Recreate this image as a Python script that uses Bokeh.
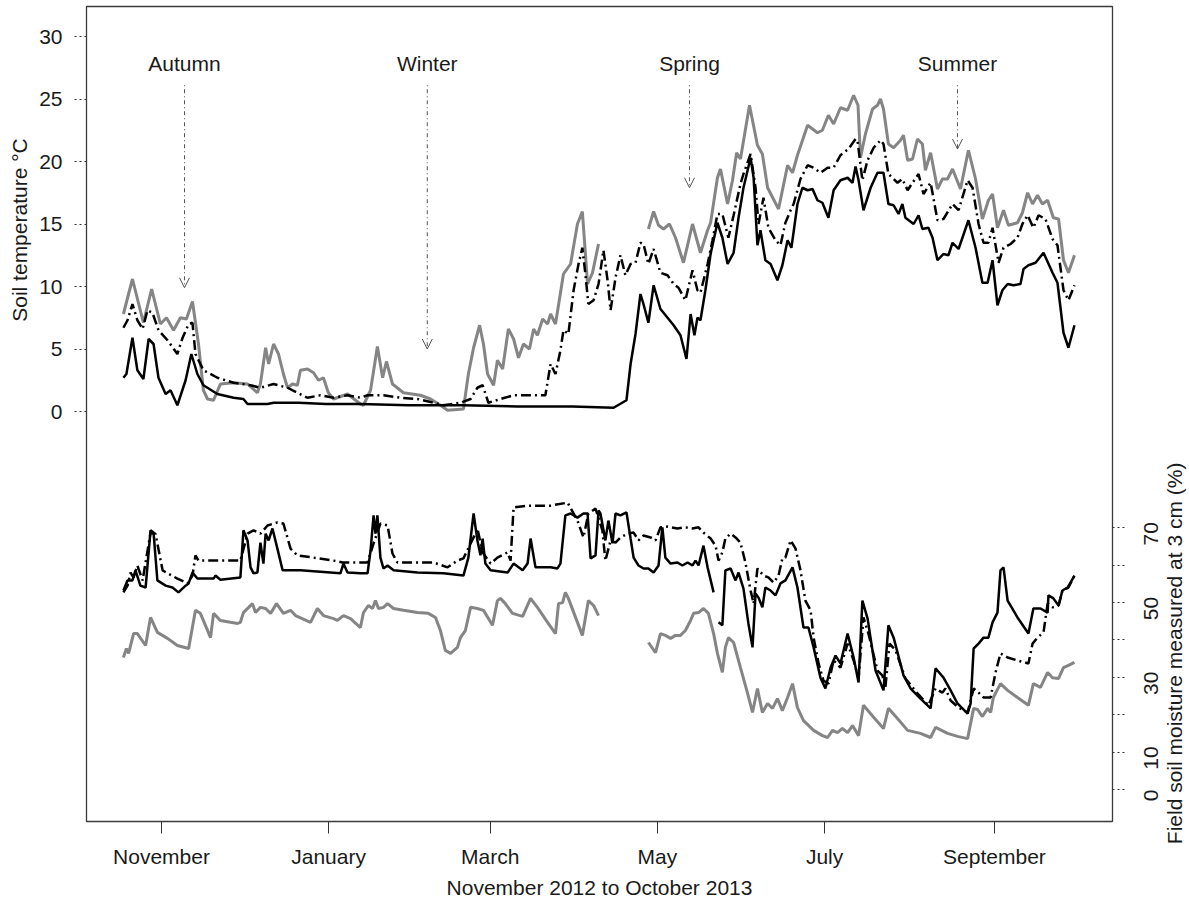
import math
from bokeh.plotting import figure
from bokeh.layouts import row
from bokeh.models import Range1d, LinearAxis, FixedTicker, Label, LabelSet, Arrow, OpenHead, ColumnDataSource
from bokeh.embed import file_html
from bokeh.resources import INLINE
from bokeh.core.properties import value

NaN = float("nan")

# x values: days since 1 November 2012
month_ticks = [0, 61, 120, 181, 242, 304]
month_labels = ["November", "January", "March", "May", "July", "September"]
temp_ticks = [0, 5, 10, 15, 20, 25, 30]
moist_ticks = [0, 10, 20, 30, 40, 50, 60, 70]
moist_labelled = [0, 10, 30, 50, 70]

seasons = ["Autumn", "Winter", "Spring", "Summer"]
season_day = [8.4, 97.0, 192.7, 290.5]
season_tip = [9.9, 5.0, 17.9, 21.0]

# ---- soil temperature (left axis) ----
t_grey_day = [-13.9, -10.6, -6.6, -3.6, -0.4, 1.8, 4.4, 6.9, 9.1, 11.3, 13.5, 15.3, 16.8, 19.0, 21.5, 26.3, 31.4, 35.0, 36.1, 38.0,
              39.1, 40.9, 42.7, 44.5, 46.0, 47.8, 49.6, 50.7, 53.3, 55.5, 57.3, 59.1, 60.9, 62.8, 67.9, 72.6, 73.7, 76.3, 78.8, 80.7,
              82.1, 84.3, 88.3, 94.5, 98.2, 101.8, 104.4, 110.2, 112.0, 113.9, 116.1, 117.5, 119.0, 121.2, 122.6, 124.5, 126.6, 128.5, 130.3, 132.1,
              134.3, 135.8, 137.2, 139.1, 140.9, 142.0, 143.8, 146.7, 149.3, 151.8, 153.6, 155.5, 157.3, 159.5, 168.0,
              177.7, 179.6, 181.4, 183.2, 185.4, 187.6, 190.5, 193.8, 196.7, 199.3, 200.4, 202.9, 204.0, 206.6, 208.4, 209.9, 211.3, 214.6, 217.5, 219.3,
              221.2, 225.2, 228.5, 230.3, 232.1, 235.8, 239.4, 241.2, 243.4, 245.3, 247.8, 250.4, 252.6, 254.2, 255.1, 256.9, 259.5, 261.3, 262.4, 263.5,
              265.3, 267.2, 269.7, 270.8, 272.3, 274.1, 275.9, 277.7, 278.8, 280.7, 283.2, 285.0, 286.9, 288.7, 291.6, 294.5, 297.1, 299.6, 301.8, 303.3,
              305.1, 307.3, 309.1, 312.4, 314.2, 316.1, 317.9, 319.7, 321.5, 323.4, 325.5, 327.4, 329.2, 331.0, 333.2]
t_grey = [7.8, 10.6, 7.1, 9.8, 7.0, 7.5, 6.5, 7.5, 7.4, 8.8, 5.4, 1.7, 1.0, 0.9, 2.2, 2.3, 2.2, 1.5, 2.2, 5.1,
          3.8, 5.4, 4.6, 3.0, 1.9, 2.2, 2.1, 3.3, 3.4, 3.1, 2.5, 2.7, 1.5, 1.0, 1.4, 0.6, 0.5, 1.7, 5.2, 2.7,
          4.0, 2.2, 1.5, 1.3, 1.0, 0.5, 0.1, 0.2, 3.0, 5.1, 6.9, 5.4, 3.0, 2.1, 4.1, 3.4, 6.6, 5.8, 4.3, 5.4,
          5.0, 6.6, 6.1, 7.4, 7.0, 7.8, 7.0, 11.0, 11.8, 15.0, 16.0, 10.2, 11.1, 13.4, NaN,
          14.6, 16.0, 14.9, 14.6, 15.0, 13.9, 11.9, 15.0, 12.7, 14.5, 15.1, 18.7, 19.4, 16.6, 18.5, 20.7, 20.2, 24.5, 21.3, 20.6,
          17.9, 16.2, 19.7, 19.1, 20.5, 22.9, 22.3, 22.5, 23.7, 23.0, 24.3, 24.1, 25.3, 24.5, 20.3, 22.2, 24.2, 24.5, 25.0, 24.2,
          21.4, 21.1, 21.7, 22.1, 20.1, 20.2, 21.8, 21.4, 19.3, 20.7, 17.8, 18.6, 18.6, 19.4, 17.8, 20.9, 18.6, 15.4, 16.9, 17.4,
          14.7, 16.1, 14.9, 15.1, 15.9, 17.5, 16.6, 17.3, 16.6, 16.9, 15.5, 15.4, 12.1, 11.1, 12.5]

t_black_day = [-13.9, -12.8, -10.6, -8.8, -6.6, -4.7, -2.9, -1.1, 1.5, 3.3, 5.8, 8.8, 10.9, 13.1, 15.3, 20.4, 26.3, 29.9, 31.4, 38.7,
               40.9, 50.0, 60.0, 72.6, 90.0, 110.0, 130.0, 150.0, 165.0, 169.7, 171.2, 173.0, 174.8, 175.9, 177.7, 179.6, 182.1, 184.7, 186.9, 189.4,
               191.6, 193.1, 194.5, 195.6, 196.7, 198.5, 200.4, 202.9, 204.7, 206.6, 208.8, 210.6, 212.4, 215.0, 216.1, 217.5, 218.6, 220.4, 222.3, 224.8,
               226.6, 228.5, 229.9, 232.1, 233.9, 235.8, 237.6, 239.4, 241.2, 243.4, 245.3, 247.8, 250.4, 252.2, 253.3, 254.4, 256.2, 258.8, 261.3, 263.5,
               265.3, 267.2, 269.0, 270.4, 271.5, 274.5, 276.3, 277.7, 279.9, 281.4, 283.2, 285.4, 287.2, 288.7, 290.9, 294.5, 297.1, 299.6, 301.5, 303.3,
               305.1, 306.9, 308.8, 310.9, 313.5, 314.6, 316.4, 319.0, 321.9, 325.2, 327.0, 329.2, 331.0, 333.2]
t_black = [2.7, 3.0, 5.9, 3.3, 2.6, 5.8, 5.4, 2.7, 1.4, 1.7, 0.5, 2.5, 4.6, 3.0, 2.1, 1.4, 1.1, 1.0, 0.6, 0.6,
           0.7, 0.7, 0.6, 0.6, 0.5, 0.5, 0.4, 0.4, 0.3, 0.9, 3.8, 6.2, 9.4, 8.6, 7.1, 10.1, 8.2, 7.5, 6.9, 6.1,
           4.2, 7.8, 6.1, 7.5, 7.3, 9.7, 12.6, 15.1, 13.9, 11.8, 12.7, 15.5, 17.9, 20.3, 18.7, 13.3, 14.5, 12.1, 11.8, 10.5,
           11.7, 13.7, 13.1, 16.6, 17.9, 17.7, 17.8, 16.9, 16.7, 15.5, 17.7, 18.5, 18.7, 18.3, 19.6, 18.5, 16.1, 17.9, 19.1, 19.1,
           16.6, 16.5, 15.8, 16.6, 15.5, 15.0, 15.7, 14.6, 14.7, 13.9, 12.1, 12.6, 12.5, 13.5, 13.0, 15.3, 13.1, 10.3, 10.3, 12.1,
           8.5, 9.7, 10.2, 10.1, 10.2, 11.4, 11.7, 11.9, 12.7, 11.1, 10.3, 6.3, 5.1, 6.9]

t_dash_day = [-13.9, -12.4, -10.6, -8.8, -6.9, -5.1, -3.3, -1.1, 2.2, 5.8, 7.7, 9.9, 11.3, 12.4, 15.3, 20.4, 26.3, 32.5, 36.1, 40.9,
              46.0, 49.6, 53.3, 58.0, 62.8, 67.9, 72.6, 75.2, 81.0, 87.2, 93.4, 99.3, 102.9, 109.1, 112.8, 115.3, 117.2, 119.3, 123.7, 128.5,
              134.7, 140.1, 142.0, 143.8, 145.6, 146.7, 148.5, 150.4, 152.2, 153.6, 154.7, 155.8, 157.7, 159.5, 161.3, 162.8, 163.9, 165.7, 167.5, 169.3,
              171.2, 173.0, 174.8, 175.9, 177.7, 179.6, 182.1, 184.7, 186.9, 188.7, 191.2, 193.8, 195.6, 196.7, 199.3, 201.1, 202.9, 204.7, 206.9, 208.8,
              211.3, 212.4, 215.0, 216.8, 217.9, 219.7, 221.5, 224.1, 225.9, 227.7, 229.6, 230.7, 233.2, 235.8, 238.0, 240.5, 243.1, 245.3, 247.8, 250.7,
              253.3, 254.0, 255.8, 257.7, 259.9, 262.4, 263.5, 265.3, 268.6, 270.4, 272.3, 274.1, 276.3, 278.1, 280.7, 283.2, 285.4, 288.7, 290.9, 294.2,
              296.0, 298.2, 300.0, 301.8, 303.3, 305.5, 307.3, 309.9, 312.4, 314.2, 316.1, 318.2, 320.1, 322.6, 325.2, 327.0, 329.2, 331.0, 333.2]
t_dash = [6.7, 7.3, 8.6, 7.3, 6.6, 8.1, 7.9, 6.5, 5.7, 4.6, 5.9, 7.0, 7.1, 4.6, 3.3, 2.7, 2.3, 2.1, 1.9, 2.2,
          1.9, 1.5, 1.1, 1.3, 1.1, 1.3, 1.1, 1.3, 1.3, 1.1, 1.0, 0.7, 0.5, 0.7, 1.0, 1.9, 2.1, 0.7, 1.0, 1.3,
          1.3, 1.3, 3.8, 3.0, 4.9, 6.5, 6.2, 9.7, 11.8, 13.1, 11.0, 8.6, 8.9, 10.2, 12.9, 10.5, 8.1, 10.7, 12.5, 10.9,
          11.8, 11.9, 13.5, 13.4, 11.8, 13.0, 11.1, 10.9, 10.2, 9.9, 8.9, 11.3, 9.7, 9.5, 11.8, 13.7, 15.8, 15.8, 13.9, 15.7,
          18.2, 19.0, 20.6, 17.9, 15.0, 17.1, 14.7, 13.7, 13.3, 15.1, 16.1, 16.6, 18.6, 19.7, 19.5, 19.1, 19.5, 19.5, 20.5, 21.0,
          21.8, 21.7, 18.5, 20.1, 21.1, 21.7, 21.4, 19.0, 18.3, 18.6, 17.7, 18.3, 19.0, 17.4, 18.3, 15.3, 15.4, 16.6, 16.1, 18.5,
          17.9, 15.0, 13.5, 13.5, 14.7, 11.9, 13.1, 13.4, 13.9, 15.0, 15.7, 14.7, 15.7, 15.4, 13.8, 13.3, 9.7, 8.9, 10.1]

# ---- soil moisture (right axis) ----
m_black_day = [-13.9, -12.4, -10.6, -9.5, -7.7, -5.8, -4.0, -2.9, -1.5, 1.5, 4.0, 6.2, 8.8, 9.9, 11.3, 13.1, 19.0, 19.7, 21.5, 28.8,
               29.9, 31.4, 32.5, 33.6, 35.0, 36.1, 37.2, 38.0, 39.1, 40.5, 42.3, 44.2, 50.7, 65.3, 66.4, 67.9, 72.6, 75.2, 76.3, 77.4,
               78.1, 78.8, 79.9, 81.0, 82.5, 84.7, 93.4, 102.9, 110.2, 112.0, 113.9, 115.3, 116.4, 117.2, 118.2, 120.1, 126.3, 128.5, 131.8, 133.6,
               134.7, 136.5, 142.0, 144.5, 145.6, 147.4, 149.3, 151.8, 154.0, 155.5, 156.6, 158.4, 159.5, 160.2, 162.0, 163.1, 164.6, 165.7, 167.5, 169.7,
               171.2, 172.3, 174.1, 175.9, 177.7, 179.6, 181.4, 182.8, 183.9, 185.8, 188.3, 190.1, 192.0, 193.8, 194.9, 196.0, 197.8, 199.3, 201.5, 202.4,
               203.3, 204.7, 205.8, 207.7, 209.5, 210.6, 212.4, 214.2, 215.7, 216.8, 217.9, 219.3, 220.4, 222.3, 224.1, 225.9, 227.7, 230.3, 232.1, 234.3,
               236.1, 238.0, 240.5, 242.3, 244.2, 246.0, 247.8, 250.4, 252.6, 254.4, 255.8, 257.7, 260.6, 263.5, 265.3, 267.2, 270.8, 273.4, 277.0, 280.7,
               282.5, 285.4, 288.0, 290.5, 294.2, 295.3, 296.4, 298.2, 300.0, 301.8, 303.3, 305.1, 306.2, 307.3, 308.8, 312.4, 316.4, 318.2, 320.8, 323.4,
               323.7, 325.5, 327.4, 328.8, 330.7, 333.2]
m_black = [53.2, 55.9, 55.9, 58.6, 54.5, 54.0, 69.3, 68.7, 55.9, 54.5, 54.0, 52.7, 54.5, 55.1, 58.0, 56.4, 56.4, 57.2, 56.1, 56.7,
           69.3, 66.6, 59.4, 57.8, 58.0, 66.0, 60.4, 68.4, 66.6, 69.8, 64.4, 58.6, 58.6, 57.8, 60.4, 58.0, 57.8, 57.8, 63.9, 73.3,
           68.4, 73.3, 62.0, 59.1, 59.9, 58.6, 58.0, 57.8, 57.2, 62.0, 73.8, 66.6, 62.6, 67.1, 60.4, 58.6, 58.0, 60.4, 58.6, 60.4,
           67.1, 59.4, 59.4, 59.1, 60.4, 73.3, 73.8, 72.7, 73.8, 73.8, 61.8, 62.6, 74.6, 73.8, 66.6, 71.9, 65.8, 73.8, 73.3, 74.1,
           67.1, 62.0, 59.9, 59.1, 59.1, 58.0, 59.9, 70.1, 62.0, 60.4, 60.7, 59.9, 60.7, 59.9, 61.2, 59.9, 65.2, 59.4, 52.7, NaN,
           44.7, 43.9, 58.6, 59.1, 55.9, 58.0, 53.7, 44.4, 38.0, 52.4, 51.3, 48.7, 54.0, 53.2, 51.9, 55.1, 55.9, 59.4, 54.0, 43.3,
           43.3, 38.0, 29.9, 27.0, 32.6, 35.8, 33.7, 41.7, 35.3, 28.6, 50.5, 45.7, 31.8, 26.5, 43.9, 40.6, 30.5, 27.0, 24.3, 21.7,
           32.4, 29.9, 26.5, 23.0, 20.3, 23.0, 37.7, 39.0, 40.6, 40.6, 44.7, 47.3, 58.6, 59.4, 50.5, 46.0, 41.7, 48.4, 48.4, 47.3,
           51.9, 51.1, 49.2, 53.2, 54.0, 57.2]

m_dash_day = [-13.9, -12.4, -11.3, -10.2, -8.8, -6.9, -4.0, -2.2, 0.4, 2.2, 5.8, 9.5, 11.3, 12.4, 13.5, 19.0, 28.8, 31.4, 33.6, 36.1,
              38.7, 42.3, 44.5, 47.1, 49.6, 55.5, 62.8, 66.1, 72.6, 75.2, 77.4, 79.9, 82.5, 84.3, 86.1, 99.3, 104.4, 108.0, 110.2, 113.9,
              115.3, 117.2, 120.1, 122.6, 126.3, 127.4, 128.5, 133.6, 142.0, 148.2, 151.8, 154.0, 155.8, 158.4, 160.9, 162.0, 163.9, 165.7, 167.5, 170.1,
              172.3, 174.1, 175.9, 178.5, 180.3, 182.1, 184.7, 188.3, 191.2, 193.8, 196.0, 197.8, 200.4, 202.2, 203.3, 204.7, 205.8, 207.7, 209.5, 211.3,
              213.1, 215.0, 216.1, 217.5, 219.7, 221.5, 223.4, 225.2, 226.6, 227.7, 229.6, 231.4, 233.2, 235.0, 236.9, 238.0, 239.8, 241.6, 243.4, 245.3,
              247.8, 250.4, 252.6, 254.4, 256.2, 258.0, 261.3, 263.1, 264.2, 265.7, 267.9, 271.5, 275.9, 279.9, 282.5, 285.0, 286.1, 288.0, 290.9, 294.2,
              296.4, 298.2, 300.0, 302.6, 304.4, 306.2, 308.8, 312.4, 316.4, 317.9, 319.7, 321.9, 323.4, 325.2, 327.4, 328.8, 331.0, 333.2]
m_dash = [52.7, 54.5, 58.0, 56.7, 59.9, 55.9, 68.7, 68.4, 58.6, 57.8, 56.4, 55.1, 57.2, 62.6, 61.2, 61.2, 61.2, 68.4, 69.3, 68.4,
          70.6, 71.4, 71.1, 64.4, 62.6, 62.0, 61.2, 60.7, 60.7, 60.7, 65.8, 71.1, 70.6, 63.1, 60.7, 60.7, 59.4, 61.2, 61.8, 67.4,
          69.8, 63.4, 60.4, 62.0, 63.4, 61.2, 75.4, 75.9, 75.9, 76.7, 71.9, 67.4, 73.8, 75.1, 69.3, 61.2, 66.6, 66.0, 67.4, 68.4,
          68.7, 66.6, 67.9, 67.4, 66.6, 70.1, 70.3, 69.8, 70.1, 69.8, 70.1, 68.7, 67.1, 65.2, 61.2, 63.4, 67.1, 68.4, 67.4, 66.0,
          60.7, 53.2, 49.7, 59.1, 57.2, 56.7, 55.3, 57.2, 61.8, 62.0, 66.6, 64.4, 58.6, 50.5, 47.9, 40.6, 33.7, 29.1, 28.3, 34.5,
          32.6, 39.0, 34.5, 29.7, 46.0, 41.7, 31.8, 30.5, 27.3, 39.0, 37.2, 29.7, 25.7, 22.5, 27.0, 25.9, 27.0, 23.8, 21.9, 20.6,
          27.0, 25.9, 24.6, 24.6, 31.3, 36.4, 35.3, 34.5, 33.7, 39.0, 40.6, 42.0, 49.7, 48.7, 49.2, 53.2, 54.0, 57.2]

m_grey_day = [-13.9, -12.8, -12.0, -10.2, -8.8, -5.8, -4.0, -1.5, 2.2, 5.8, 9.9, 12.4, 14.2, 17.9, 19.0, 21.5, 25.2, 27.7, 28.8, 29.9,
              33.2, 34.3, 36.1, 38.0, 39.8, 42.0, 44.5, 47.1, 48.9, 54.4, 56.9, 59.1, 62.8, 64.2, 66.4, 69.0, 72.6, 73.7, 75.5, 77.0,
              78.1, 79.2, 81.0, 82.5, 84.7, 88.3, 93.4, 97.4, 100.0, 101.8, 103.6, 105.5, 108.0, 109.1, 110.9, 112.8, 115.3, 117.5, 120.8, 122.6,
              123.7, 125.5, 128.1, 131.8, 134.7, 137.2, 140.9, 143.8, 144.9, 146.4, 147.4, 148.5, 153.6, 155.8, 157.7, 159.5, 168.0,
              177.7, 180.3, 182.1, 183.9, 185.8, 187.6, 189.4, 191.2, 193.1, 194.2, 196.0, 197.8, 199.6, 201.5, 202.9, 204.7, 205.8, 206.9, 208.8, 211.3,
              213.9, 215.7, 217.5, 219.3, 221.2, 223.0, 224.8, 226.6, 228.5, 230.3, 232.1, 234.3, 238.0, 241.2, 243.1, 244.9, 246.7, 248.5, 250.4, 252.2,
              254.4, 256.2, 259.9, 263.5, 265.3, 268.6, 272.3, 277.0, 280.7, 282.5, 286.9, 290.5, 294.2, 296.4, 297.8, 299.6, 301.5, 302.6, 303.6, 306.2,
              308.8, 312.4, 316.4, 318.2, 320.8, 323.4, 325.2, 327.4, 329.2, 331.0, 333.2]
m_grey = [35.3, 37.7, 36.4, 41.7, 41.7, 38.5, 46.0, 42.0, 40.4, 38.5, 37.7, 47.9, 47.1, 40.6, 47.1, 45.2, 44.7, 44.4, 44.7, 47.3,
          49.7, 47.3, 48.7, 48.4, 47.1, 49.7, 47.1, 47.9, 46.5, 44.7, 48.4, 46.5, 45.7, 45.2, 46.5, 45.7, 43.3, 47.3, 49.2, 48.4,
          50.5, 48.4, 48.7, 49.7, 48.4, 47.9, 47.3, 47.1, 46.0, 42.5, 37.2, 36.4, 38.0, 40.6, 42.5, 48.7, 48.4, 47.9, 43.9, 50.5,
          51.1, 49.7, 47.1, 46.3, 51.1, 48.7, 44.7, 41.7, 49.7, 50.0, 52.7, 51.1, 41.2, 50.5, 49.2, 46.5, NaN,
          39.3, 36.6, 41.7, 41.2, 40.4, 41.2, 41.2, 42.5, 45.2, 47.1, 47.3, 48.4, 47.1, 41.7, 36.4, 31.3, 38.0, 40.6, 39.3, 32.6,
          25.7, 20.6, 27.0, 20.6, 23.0, 21.7, 24.3, 21.1, 24.6, 28.3, 21.9, 18.4, 15.8, 14.4, 13.9, 15.8, 15.2, 16.3, 15.2, 17.1,
          14.4, 22.5, 19.3, 16.3, 21.7, 19.0, 15.8, 15.0, 13.9, 16.6, 15.0, 14.2, 13.6, 21.7, 21.4, 19.5, 21.7, 20.6, 24.6, 28.3,
          26.5, 24.6, 22.5, 28.3, 27.3, 31.3, 29.9, 29.7, 32.6, 33.2, 34.0]

FONT = "Liberation Sans"
TXT = "#1a1a1a"
GREY = "#858585"
DASHDOT = "10 4 2 4"

# layout geometry (pixels)
TOP, FRAME_H, BOTTOM = 6, 815, 85
H = TOP + FRAME_H + BOTTOM
LEFT_W, MAIN_LEFT, FRAME_W, MAIN_RIGHT, RIGHT_W = 34, 52, 1026, 13, 62

T_LO, T_HI = -32.8, 32.4
M_LO, M_HI = -8.56, 209.36


def full_height(lo, hi):
    upp = (hi - lo) / FRAME_H
    return Range1d(lo - BOTTOM * upp, hi + TOP * upp)


# ---------------- main figure ----------------
p = figure(frame_width=FRAME_W, frame_height=FRAME_H, output_backend="svg", toolbar_location=None,
           x_range=Range1d(-27.37, 347.08), y_range=Range1d(T_LO, T_HI),
           min_border_left=MAIN_LEFT, min_border_right=MAIN_RIGHT, min_border_top=TOP, min_border_bottom=BOTTOM,
           background_fill_color="white", border_fill_color="white")
p.extra_y_ranges = {"moist": Range1d(M_LO, M_HI)}
p.grid.visible = False
p.outline_line_color = "#3a3a3a"
p.outline_line_width = 1.3

p.line(t_grey_day, t_grey, line_color=GREY, line_width=3)
p.line(t_black_day, t_black, line_color="black", line_width=2.5)
p.line(t_dash_day, t_dash, line_color="black", line_width=2.5, line_dash=DASHDOT)
p.line(m_grey_day, m_grey, line_color=GREY, line_width=3, y_range_name="moist")
p.line(m_black_day, m_black, line_color="black", line_width=2.5, y_range_name="moist")
p.line(m_dash_day, m_dash, line_color="black", line_width=2.5, line_dash=DASHDOT, y_range_name="moist")

src = ColumnDataSource(dict(name=seasons, x=season_day, y=[27.85] * 4,
                            y0=[26.1] * 4, tip=season_tip))
p.text(x="x", y="y", text="name", source=src, text_font=value(FONT), text_font_size="21px",
       text_align="center", text_baseline="middle", text_color=TXT)
p.add_layout(Arrow(end=OpenHead(size=10, line_width=1, line_color="#555555"),
                   x_start="x", y_start="y0", x_end="x", y_end="tip", source=src,
                   line_color="#555555", line_width=1, line_dash="1 3 4 3"))

ya = p.yaxis[0]
ya.ticker = FixedTicker(ticks=temp_ticks)
ya.axis_line_color = None
ya.major_tick_line_dash = "2 3"
ya.major_tick_line_color = "#333333"
ya.major_tick_out = 12
ya.major_tick_in = 0
ya.minor_tick_line_color = None
ya.major_label_standoff = 12
ya.major_label_text_font = FONT
ya.major_label_text_font_size = "21px"
ya.major_label_text_color = TXT

xa = p.xaxis[0]
xa.ticker = FixedTicker(ticks=month_ticks)
xa.major_label_overrides = {t: l for t, l in zip(month_ticks, month_labels)}
xa.axis_line_color = None
xa.major_tick_line_color = "#333333"
xa.major_tick_out = 12
xa.major_tick_in = 0
xa.minor_tick_line_color = None
xa.major_label_standoff = 11
xa.major_label_text_font = FONT
xa.major_label_text_font_size = "21px"
xa.major_label_text_color = TXT
xa.axis_label = "November 2012 to October 2013"
xa.axis_label_text_font = FONT
xa.axis_label_text_font_size = "21px"
xa.axis_label_text_font_style = "normal"
xa.axis_label_text_color = TXT
xa.axis_label_standoff = 5

# right (moisture) axis: tick marks next to the frame
ra = LinearAxis(y_range_name="moist", ticker=FixedTicker(ticks=[], minor_ticks=moist_ticks))
ra.axis_line_color = None
ra.major_tick_line_color = None
ra.major_tick_out = 0
ra.major_label_standoff = 0
ra.minor_tick_line_dash = "2 3"
ra.minor_tick_line_color = "#333333"
ra.minor_tick_out = 12
ra.minor_tick_in = 0
p.add_layout(ra, "right")

# ---------------- left strip: temperature title ----------------
lf = figure(frame_width=LEFT_W, frame_height=H, output_backend="svg", toolbar_location=None,
            x_range=Range1d(0, LEFT_W), y_range=full_height(T_LO, T_HI),
            x_axis_type=None, y_axis_type=None, min_border=0)
lf.outline_line_color = None
lf.add_layout(Label(x=19, y=15, text="Soil temperature \u00b0C", angle=math.pi / 2,
                    text_align="center", text_baseline="middle", text_font=FONT,
                    text_font_size="21px", text_color=TXT))

# ---------------- right strip: moisture tick labels and title ----------------
rf = figure(frame_width=RIGHT_W, frame_height=H, output_backend="svg", toolbar_location=None,
            x_range=Range1d(0, RIGHT_W), y_range=full_height(M_LO, M_HI),
            x_axis_type=None, y_axis_type=None, min_border=0)
rf.outline_line_color = None
lab_src = ColumnDataSource(dict(y=moist_labelled, x=[25.5] * len(moist_labelled),
                                t=[str(v) for v in moist_labelled]))
rf.add_layout(LabelSet(x="x", y="y", text="t", source=lab_src, angle=math.pi / 2,
                       text_align="center", text_baseline="middle", text_font=value(FONT),
                       text_font_size="21px", text_color=TXT))
rf.add_layout(Label(x=49, y=38, text="Field soil moisture measured at 3 cm (%)", angle=math.pi / 2,
                    text_align="center", text_baseline="middle", text_font=FONT,
                    text_font_size="21px", text_color=TXT))

layout = row(lf, p, rf, spacing=0)
open("out.html", "w").write(file_html(layout, INLINE))
